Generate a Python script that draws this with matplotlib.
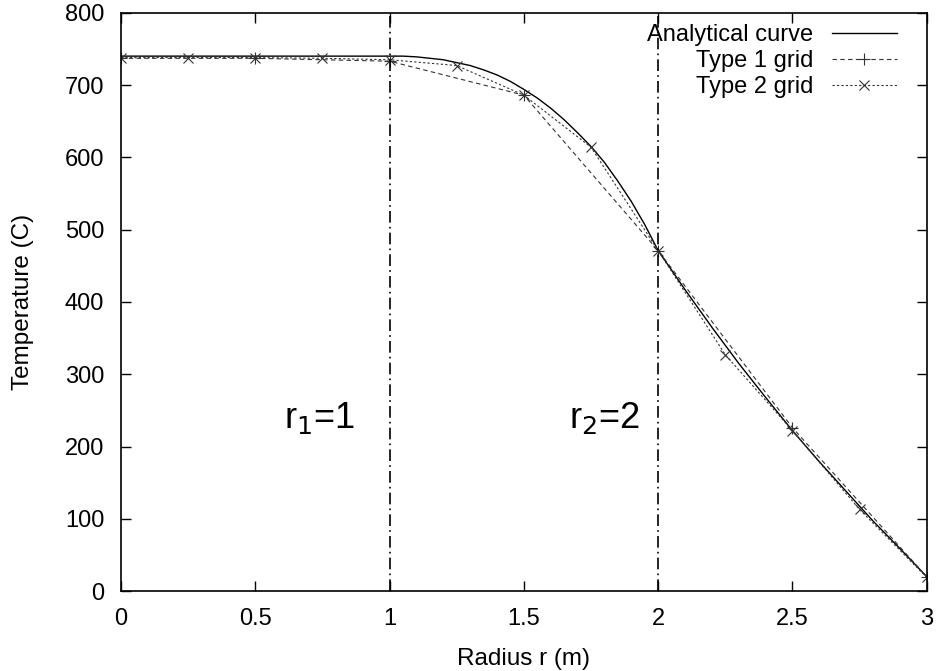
import numpy as np
import matplotlib
matplotlib.use("Agg")
from matplotlib import pyplot as plt

plt.rcParams['font.family'] = ['Liberation Sans', 'DejaVu Sans']

# analytical solution
r_exact = [0.0, 0.5, 1.0, 1.05, 1.1, 1.15, 1.2, 1.25, 1.3, 1.35, 1.4, 1.45, 1.5,
           1.55, 1.6, 1.65, 1.7, 1.75, 1.8, 1.85, 1.9, 1.95, 2.0,
           2.1, 2.2, 2.3, 2.4, 2.5, 2.6, 2.7, 2.8, 2.9, 3.0]
T_exact = [740, 740, 740, 740, 739, 737, 735, 731, 727, 721, 714, 705, 694,
           682, 668, 652, 634, 615, 593, 567, 539, 507, 471,
           417, 365, 315, 268, 222, 179, 138, 97, 59, 20]

# type 1 grid (h = 0.5)
r_grid1 = [0.0, 0.5, 1.0, 1.5, 2.0, 2.5, 3.0]
T_grid1 = [737, 737, 733, 686, 471, 226, 20]

# type 2 grid (h = 0.25)
r_grid2 = [0.0, 0.25, 0.5, 0.75, 1.0, 1.25, 1.5, 1.75, 2.0, 2.25, 2.5, 2.75, 3.0]
T_grid2 = [738, 738, 738, 737, 735, 727, 686, 614, 471, 327, 222, 113, 19]

r_interfaces = [1, 2]
interface_labels = ['r$_1$=1', 'r$_2$=2']
label_pos = [(0.74, 240), (1.8, 240)]

fig = plt.figure(figsize=(9.38, 6.71), dpi=100)
ax = fig.add_axes([0.129, 0.119, 0.859, 0.862])

ax.plot(r_exact, T_exact, '-', color='black', lw=1.0, label='Analytical curve')
ax.plot(r_grid1, T_grid1, '+', ls=(0, (4, 3)), color='#333333', lw=0.8,
        ms=9, mew=0.8, label='Type 1 grid')
ax.plot(r_grid2, T_grid2, 'x', ls=(0, (2, 2)), color='#333333', lw=0.8,
        ms=6.5, mew=0.8, label='Type 2 grid')

for xv in r_interfaces:
    ax.plot([xv, xv], [0, 800], color='black', lw=1.2, ls=(0, (7, 2.5, 1, 2.5)))
for txt, (xp, yp) in zip(interface_labels, label_pos):
    ax.text(xp, yp, txt, fontsize=26, ha='center', va='center')

ax.set_xlim(0, 3)
ax.set_ylim(0, 800)
ax.set_xticks(np.arange(0, 3.01, 0.5))
ax.set_xticklabels(['0', '0.5', '1', '1.5', '2', '2.5', '3'])
ax.set_yticks(np.arange(0, 801, 100))
ax.tick_params(direction='in', length=7, width=1, top=True, right=True,
               labelsize=17, pad=12)
for s in ax.spines.values():
    s.set_linewidth(1.2)

ax.set_xlabel('Radius r (m)', fontsize=17.5, labelpad=13)
ax.set_ylabel('Temperature (C)', fontsize=17.5, labelpad=22)

leg = ax.legend(loc='upper right', frameon=False, markerfirst=False,
                fontsize=17, handlelength=2.75, handletextpad=0.8,
                labelspacing=0.17, borderaxespad=0.0,
                bbox_to_anchor=(0.9745, 0.997))

fig.savefig('out.png', dpi=100)
